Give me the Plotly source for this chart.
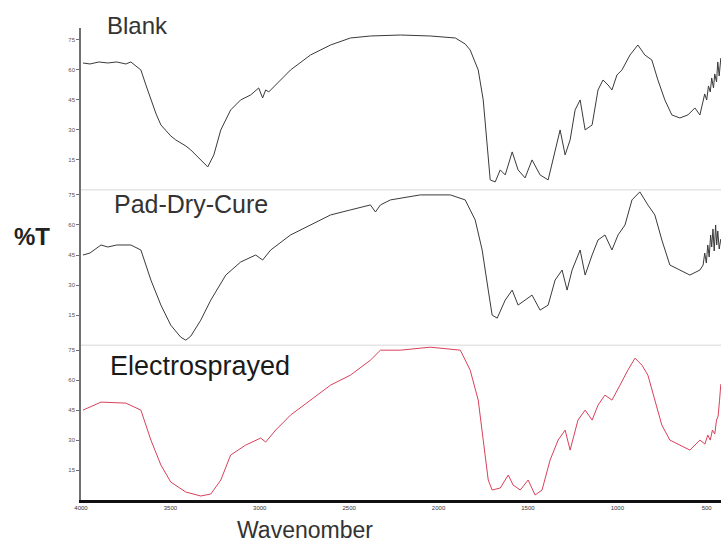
import plotly.graph_objects as go

# Wavenumber (cm-1) and %T
blank_wn = [3989, 3950, 3900, 3850, 3800, 3749, 3721, 3693, 3665, 3637, 3609, 3580, 3553, 3498, 3470, 3414, 3386,
            3330, 3291, 3257, 3218, 3163, 3107, 3051, 3006, 2984, 2967, 2950, 2911, 2828, 2716, 2604, 2493, 2381,
            2213, 2046, 1906, 1851, 1823, 1778, 1750, 1728, 1711, 1683, 1655, 1627, 1588, 1555, 1516, 1477, 1432,
            1387, 1348, 1320, 1292, 1264, 1236, 1208, 1180, 1141, 1108, 1080, 1052, 1030, 1002, 974, 929, 885, 846,
            807, 773, 734, 695, 650, 605, 566, 538, 520, 511, 500, 490, 480, 472, 462, 455, 445, 438, 430, 421]
blank_t = [63.5, 63, 64, 63.5, 64, 63, 64, 62, 60, 52.5, 45, 38, 32.5, 27, 25, 22, 20,
           15, 11.5, 17.5, 30, 40, 45, 47.5, 51, 46, 50, 49, 52.5, 60, 67.5, 72.5, 76, 77,
           77.5, 77, 76, 73, 70, 60, 45, 20, 5, 4, 10, 7.5, 19, 10, 6, 15, 7.5,
           5, 20, 30, 17.5, 25, 40, 45, 30, 32.5, 50, 55, 52.5, 50, 57.5, 60, 67.5, 72.5, 67.5,
           65, 55, 45, 37.5, 36, 37.5, 41, 37.5, 44, 48, 45, 52, 49, 56, 51, 58, 54, 64, 57, 66]

pdc_wn = [3989, 3950, 3888, 3850, 3800, 3721, 3665, 3609, 3553, 3498, 3442, 3414, 3386, 3330, 3274, 3190, 3107,
          3023, 2984, 2939, 2828, 2716, 2604, 2493, 2381, 2353, 2325, 2269, 2102, 1934, 1851, 1795, 1756, 1722,
          1700, 1672, 1627, 1588, 1555, 1516, 1477, 1432, 1387, 1348, 1309, 1281, 1253, 1208, 1180, 1141, 1108,
          1069, 1030, 996, 957, 918, 874, 829, 790, 751, 706, 650, 594, 538, 520, 511, 502, 494, 486, 478, 472,
          465, 458, 450, 444, 438, 430, 421]
pdc_t = [45, 46, 50, 49, 50, 50, 47.5, 32.5, 20, 10, 4, 2.5, 4.5, 12.5, 22.5, 35, 41.5,
         45, 42.5, 47.5, 55, 60, 65, 67.5, 70, 66.5, 70, 72.5, 75, 75, 72.5, 62.5, 47.5, 27.5,
         15, 13.5, 22.5, 27.5, 20, 22.5, 25, 17.5, 20, 32.5, 37.5, 27.5, 37.5, 47.5, 35, 45, 52.5,
         55, 47.5, 55, 60, 72.5, 76.5, 70, 65, 52.5, 40, 37.5, 35, 37.5, 40, 46, 41, 50, 44, 55, 49,
         58, 47, 60, 50, 57, 48, 53]

es_wn = [3989, 3888, 3749, 3665, 3609, 3553, 3498, 3414, 3330, 3274, 3218, 3163, 3079, 3023, 2995, 2967, 2911,
         2828, 2716, 2604, 2493, 2381, 2325, 2213, 2046, 1878, 1823, 1778, 1750, 1722, 1700, 1655, 1610, 1583,
         1543, 1499, 1460, 1421, 1376, 1331, 1292, 1264, 1220, 1180, 1141, 1108, 1069, 1030, 985, 941, 901, 862,
         829, 790, 751, 706, 650, 594, 538, 510, 494, 480, 468, 455, 445, 436, 428, 421]
es_t = [45, 49, 48.5, 45, 30, 17.5, 9, 4, 2, 3, 10, 22.5, 27.5, 30, 31, 29, 35,
        42.5, 50, 57.5, 62.5, 70, 75, 75, 76.5, 75, 65, 50, 30, 10, 5, 6, 12.5, 7.5,
        5, 10, 2.5, 5, 20, 30, 35, 25, 40, 45, 40, 47.5, 52.5, 50, 57.5, 65, 71, 67.5,
        62.5, 50, 37.5, 30, 27.5, 25, 30, 28, 32.5, 30, 35, 33, 40, 42, 50, 58]

x_ticks = [4000, 3500, 3000, 2500, 2000, 1500, 1000, 500]
y_ticks = [15, 30, 45, 60, 75]

fig = go.Figure()
fig.add_trace(go.Scatter(x=blank_wn, y=blank_t, mode="lines", line=dict(color="#3a3a3a", width=1),
                         xaxis="x", yaxis="y3", showlegend=False))
fig.add_trace(go.Scatter(x=pdc_wn, y=pdc_t, mode="lines", line=dict(color="#3a3a3a", width=1),
                         xaxis="x", yaxis="y2", showlegend=False))
fig.add_trace(go.Scatter(x=es_wn, y=es_t, mode="lines", line=dict(color="#d8405a", width=1),
                         xaxis="x", yaxis="y", showlegend=False))

yax = dict(showgrid=False, zeroline=False, showline=True, linecolor="#707070", linewidth=1.5,
           ticks="outside", ticklen=3, tickcolor="#707070", tickvals=y_ticks, automargin=False,
           tickfont=dict(size=6, color="#555555", family="Liberation Sans"))

fig.update_layout(
    width=721, height=545,
    margin=dict(l=81, r=0, t=28, b=45, autoexpand=False),
    paper_bgcolor="white", plot_bgcolor="white",
    xaxis=dict(range=[4000, 420], showgrid=False, zeroline=False, showline=True, linecolor="#111111",
               linewidth=2.5, ticks="", tickvals=x_ticks, automargin=False,
               tickfont=dict(size=6, color="#333333", family="Liberation Sans"), anchor="y"),
    yaxis=dict(domain=[0, 0.328], range=[0, 77.5], **yax),
    yaxis2=dict(domain=[0.328, 0.657], range=[0, 77.5], **yax),
    yaxis3=dict(domain=[0.657, 1], range=[0, 81], **yax),
    shapes=[
        dict(type="line", xref="paper", yref="paper", x0=0, x1=1, y0=0.328, y1=0.328,
             line=dict(color="#d8d8d8", width=1)),
        dict(type="line", xref="paper", yref="paper", x0=0, x1=1, y0=0.657, y1=0.657,
             line=dict(color="#d8d8d8", width=1)),
    ],
    annotations=[
        dict(text="Blank", xref="paper", yref="paper", x=0.0375, y=1.006, xanchor="left", yanchor="middle",
             showarrow=False, font=dict(size=24, color="#333333", family="Liberation Sans")),
        dict(text="Pad-Dry-Cure", xref="paper", yref="paper", x=0.048, y=0.627, xanchor="left", yanchor="middle",
             showarrow=False, font=dict(size=25, color="#333333", family="Liberation Sans")),
        dict(text="Electrosprayed", xref="paper", yref="paper", x=0.042, y=0.284, xanchor="left", yanchor="middle",
             showarrow=False, font=dict(size=27, color="#1a1a1a", family="Liberation Sans")),
        dict(text="<b>%T</b>", xref="paper", yref="paper", x=-0.108, y=0.559, xanchor="left", yanchor="middle",
             showarrow=False, font=dict(size=24, color="#222222", family="Liberation Sans")),
        dict(text="Wavenomber", xref="paper", yref="paper", x=0.24, y=-0.064, xanchor="left", yanchor="middle",
             showarrow=False, font=dict(size=23, color="#333333", family="Liberation Sans")),
    ],
)

fig.write_html("out.html", config={"displayModeBar": False},
               post_script="document.body.style.margin='0px';document.body.style.overflow='hidden';")
